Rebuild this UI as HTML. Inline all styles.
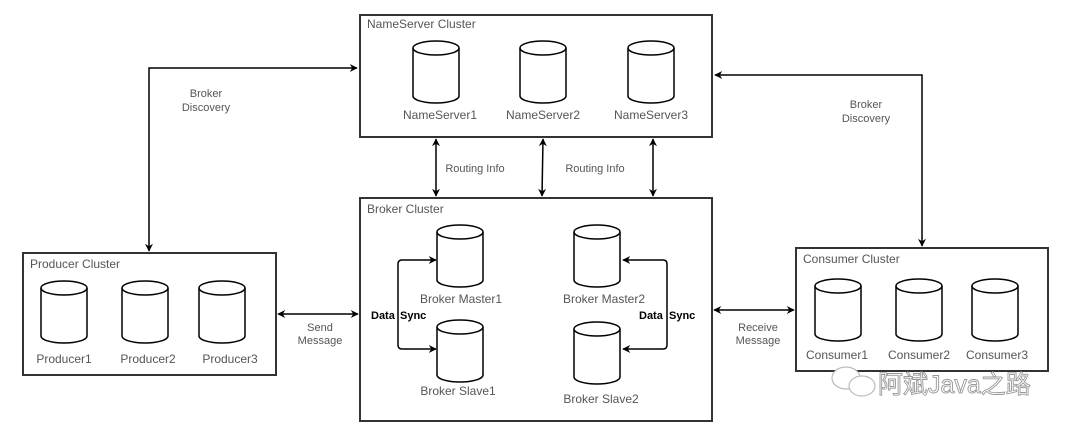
<!DOCTYPE html>
<html><head><meta charset="utf-8"><style>
html,body{margin:0;padding:0;background:#fff;}
svg{display:block;}
text{font-family:"Liberation Sans",Arial,sans-serif;}
</style></head><body>
<svg width="1080" height="431" viewBox="0 0 1080 431" xmlns="http://www.w3.org/2000/svg">
<defs>
<marker id="a" viewBox="0 0 10 10" refX="9" refY="5" markerWidth="8" markerHeight="8" orient="auto-start-reverse" markerUnits="userSpaceOnUse"><path d="M0,0 L10,5 L0,10 L3,5 Z" fill="#000"/></marker>
<g id="cyl">
<path d="M-23,-24 L-23,24 A23,7 0 0 0 23,24 L23,-24" fill="#fff" stroke="#000" stroke-width="1.5"/>
<ellipse cx="0" cy="-24" rx="23" ry="7" fill="#fff" stroke="#000" stroke-width="1.5"/>
</g>
</defs>
<g fill="none" stroke="#333" stroke-width="2">
<rect x="360" y="15" width="352" height="122"/>
<rect x="360" y="198" width="352" height="223"/>
<rect x="23" y="253" width="253" height="122"/>
<rect x="796" y="248" width="252" height="123"/>
</g>
<g font-size="12" fill="#555">
<text x="367" y="28">NameServer Cluster</text>
<text x="367" y="213">Broker Cluster</text>
<text x="30" y="268">Producer Cluster</text>
<text x="803" y="263">Consumer Cluster</text>
</g>
<use href="#cyl" x="436" y="72"/><use href="#cyl" x="543" y="72"/><use href="#cyl" x="651" y="72"/>
<use href="#cyl" x="460" y="256"/><use href="#cyl" x="597" y="256"/>
<use href="#cyl" x="460" y="351"/><use href="#cyl" x="597" y="353"/>
<use href="#cyl" x="64" y="312"/><use href="#cyl" x="145" y="312"/><use href="#cyl" x="222" y="312"/>
<use href="#cyl" x="838" y="310"/><use href="#cyl" x="919" y="310"/><use href="#cyl" x="995" y="310"/>
<g font-size="12" fill="#555" text-anchor="middle">
<text x="440" y="119">NameServer1</text><text x="543" y="119">NameServer2</text><text x="651" y="119">NameServer3</text>
<text x="461" y="303">Broker Master1</text><text x="604" y="303">Broker Master2</text>
<text x="458" y="395">Broker Slave1</text><text x="601" y="403">Broker Slave2</text>
<text x="64" y="363">Producer1</text><text x="148" y="363">Producer2</text><text x="230" y="363">Producer3</text>
<text x="837" y="359">Consumer1</text><text x="919" y="359">Consumer2</text><text x="997" y="359">Consumer3</text>
</g>
<g fill="none" stroke="#000" stroke-width="1.5">
<path d="M357,68 L149,68 L149,251" marker-start="url(#a)" marker-end="url(#a)"/>
<path d="M715,75 L922,75 L922,246" marker-start="url(#a)" marker-end="url(#a)"/>
<path d="M436,139 L436,196" marker-start="url(#a)" marker-end="url(#a)"/>
<path d="M543,139 L542,196" marker-start="url(#a)" marker-end="url(#a)"/>
<path d="M653,139 L653,196" marker-start="url(#a)" marker-end="url(#a)"/>
<path d="M278,314 L358,314" marker-start="url(#a)" marker-end="url(#a)"/>
<path d="M714,310 L794,310" marker-start="url(#a)" marker-end="url(#a)"/>
<path d="M436,260 L402,260 Q398,260 398,264 L398,345 Q398,349 402,349 L436,349" marker-start="url(#a)" marker-end="url(#a)"/>
<path d="M623,260 L663,260 Q667,260 667,264 L667,345 Q667,349 663,349 L623,349" marker-start="url(#a)" marker-end="url(#a)"/>
</g>
<g font-size="11" fill="#555" text-anchor="middle">
<text x="206" y="97">Broker</text><text x="206" y="111">Discovery</text>
<text x="866" y="108">Broker</text><text x="866" y="122">Discovery</text>
<text x="475" y="172">Routing Info</text><text x="595" y="172">Routing Info</text>
<text x="320" y="331">Send</text><text x="320" y="344">Message</text>
<text x="758" y="331">Receive</text><text x="758" y="344">Message</text>
</g>
<g font-size="11" font-weight="bold" fill="#000">
<text x="371" y="319">Data</text><text x="400" y="319">Sync</text>
<text x="639" y="319">Data</text><text x="669" y="319">Sync</text>
</g>
<g fill="#fff" stroke="#bbb" stroke-width="1.2">
<ellipse cx="846" cy="378" rx="14" ry="11"/>
<ellipse cx="862" cy="386" rx="13" ry="10"/>
</g>
<text x="878" y="393" font-size="25" fill="#fff" stroke="#999" stroke-width="0.9" style="font-family:'Liberation Sans','Noto Sans CJK SC',sans-serif">阿斌Java之路</text>
</svg>
</body></html>
